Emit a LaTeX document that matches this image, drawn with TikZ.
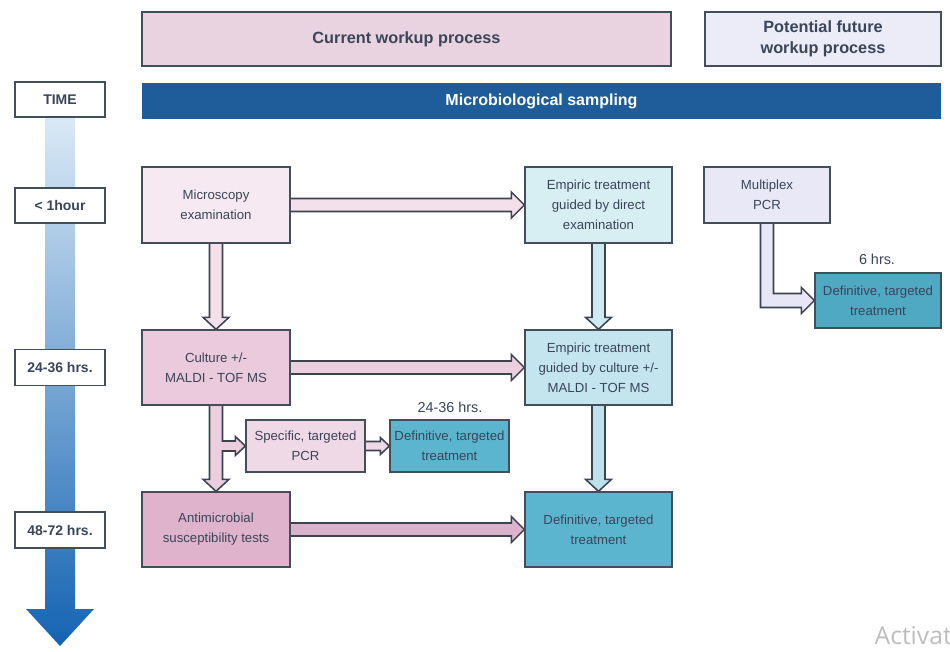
\documentclass[tikz,border=0pt]{standalone}
\usepackage{fontspec}
\setmainfont{Liberation Sans}
\newfontfamily\wmfont{Open Sans}
\usetikzlibrary{calc,backgrounds}
\definecolor{txt}{HTML}{3A4559}
\definecolor{brd}{HTML}{434E5B}
\definecolor{arrln}{HTML}{3A434E}
\definecolor{curpink}{HTML}{E9D3E1}
\definecolor{potlav}{HTML}{ECECF8}
\definecolor{sampblue}{HTML}{1F5D9A}
\definecolor{micF}{HTML}{F6E9F1}
\definecolor{culF}{HTML}{EACADC}
\definecolor{antiF}{HTML}{DEB3CB}
\definecolor{pcrF}{HTML}{EFD9E6}
\definecolor{empA}{HTML}{D7EEF3}
\definecolor{empB}{HTML}{C4E5EE}
\definecolor{defF}{HTML}{5CB5CF}
\definecolor{defR}{HTML}{4FA9C3}
\definecolor{mpcrF}{HTML}{E8E8F7}
\definecolor{aPinkA}{HTML}{F3E0EB}
\definecolor{aPinkB}{HTML}{EBCFDF}
\definecolor{aPinkC}{HTML}{DBB2CB}
\definecolor{aBlueA}{HTML}{CDEAF2}
\definecolor{aBlueB}{HTML}{BEE2EC}
\definecolor{aLav}{HTML}{E6E6F6}
\definecolor{tLight}{HTML}{DDEBF7}
\definecolor{tDark}{HTML}{1463B2}
\definecolor{wm}{HTML}{BDBDBD}

\tikzset{
  box/.style={draw=brd, line width=1pt, text=txt, align=center, inner sep=0pt,
    font=\fontsize{9.9}{15}\selectfont},
  hdr/.style={draw=brd, line width=0.8pt, text=txt, align=center, inner sep=0pt,
    font=\fontsize{12.2}{16}\selectfont\bfseries},
  tbox/.style={draw=brd, line width=1pt, fill=white, text=txt, align=center, inner sep=0pt,
    font=\fontsize{10.5}{13}\selectfont\bfseries, minimum width=90*0.75pt},
  lbl/.style={text=txt, inner sep=0pt, font=\fontsize{10.8}{13}\selectfont},
  arrline/.style={draw=arrln, line width=1.15pt, line join=miter},
}

% horizontal block arrow: from, to, fill, half shaft, half head, head length
\newcommand\hblk[6]{%
  \filldraw[arrline, fill=#3] ($(#1.east)+(0,-#4)$) -- ($(#2.west)+(-#6,-#4)$)
    -- ($(#2.west)+(-#6,-#5)$) -- (#2.west) -- ($(#2.west)+(-#6,#5)$)
    -- ($(#2.west)+(-#6,#4)$) -- ($(#1.east)+(0,#4)$);}
% vertical block arrow
\newcommand\vblk[3]{%
  \filldraw[arrline, fill=#3] ($(#1.south)+(-6.5,0)$) -- ($(#2.north)+(-6.5,-12)$)
    -- ($(#2.north)+(-13,-12)$) -- (#2.north) -- ($(#2.north)+(13,-12)$)
    -- ($(#2.north)+(6.5,-12)$) -- ($(#1.south)+(6.5,0)$);}

\begin{document}
\begin{tikzpicture}[x=0.75pt, y=-0.75pt]
\useasboundingbox (0,0) rectangle (950,652);

% time arrow
\shade[top color=tLight, bottom color=tDark]
  (45,110) -- (45,609) -- (26,609) -- (60,646) -- (94,609) -- (75,609) -- (75,110) -- cycle;

% headers
\node[hdr, fill=curpink, minimum width=529*0.75pt, minimum height=54*0.75pt] (cur) at (406.5,39) {Current workup process};
\node[hdr, fill=potlav, minimum width=236*0.75pt, minimum height=54*0.75pt] (pot) at (823,39) {Potential future\\workup process};
\node[fill=sampblue, text=white, inner sep=0pt, font=\fontsize{12}{14}\selectfont\bfseries,
  minimum width=799*0.75pt, minimum height=36*0.75pt] (samp) at (541.5,101) {Microbiological sampling};

% time boxes
\node[tbox, minimum height=35*0.75pt] (tTime) at (60,99.5) {TIME};
\node[tbox, minimum height=35*0.75pt] (tOne) at (60,205.5) {< 1hour};
\node[tbox, minimum height=36*0.75pt] (tTwo) at (60,367.5) {24-36 hrs.};
\node[tbox, minimum height=36*0.75pt] (tThree) at (60,530) {48-72 hrs.};

% process boxes
\node[box, fill=micF, minimum width=148*0.75pt, minimum height=76*0.75pt] (mic) at (216,205) {Microscopy\\examination};
\node[box, fill=culF, minimum width=148*0.75pt, minimum height=75*0.75pt] (cul) at (216,367.5) {Culture +/-\\MALDI - TOF MS};
\node[box, fill=antiF, minimum width=148*0.75pt, minimum height=75*0.75pt] (anti) at (216,529.5) {Antimicrobial\\susceptibility tests};
\node[box, fill=pcrF, minimum width=119*0.75pt, minimum height=52*0.75pt] (pcr) at (305.5,446) {Specific, targeted\\PCR};
\node[box, fill=defF, minimum width=119*0.75pt, minimum height=52*0.75pt] (defs) at (449.5,446) {Definitive, targeted\\treatment};
\node[box, fill=empA, minimum width=147*0.75pt, minimum height=76*0.75pt] (empA) at (598.5,205) {Empiric treatment\\guided by direct\\examination};
\node[box, fill=empB, minimum width=147*0.75pt, minimum height=75*0.75pt] (empB) at (598.5,367.5) {Empiric treatment\\guided by culture +/-\\MALDI - TOF MS};
\node[box, fill=defF, minimum width=147*0.75pt, minimum height=75*0.75pt] (defb) at (598.5,529.5) {Definitive, targeted\\treatment};
\node[box, fill=mpcrF, minimum width=126*0.75pt, minimum height=56*0.75pt] (mpcr) at (767,195) {Multiplex\\PCR};
\node[box, fill=defR, minimum width=126*0.75pt, minimum height=55*0.75pt] (defr) at (878,300.5) {Definitive, targeted\\treatment};

% labels
\node[lbl] (lblA) at (450,407) {24-36 hrs.};
\node[lbl] (lblB) at (877,259) {6 hrs.};
\node[anchor=east, inner sep=0pt, text=wm, font=\wmfont\fontsize{18.5}{20}\selectfont] (wmk) at (952,636) {Activat};

% block arrows
\begin{scope}[on background layer]
\hblk{mic}{empA}{aPinkA}{6.5}{13}{13}
\hblk{cul}{empB}{aPinkB}{6.5}{13}{13}
\hblk{anti}{defb}{aPinkC}{6.5}{13}{13}
\hblk{pcr}{defs}{pcrF}{4.5}{8.5}{9}
\vblk{mic}{cul}{aPinkA}
\vblk{empA}{empB}{aBlueA}
\vblk{empB}{defb}{aBlueB}
% culture -> antimicrobial with branch to PCR
\coordinate (vr) at ($(anti.north)+(6.5,0)$);
\coordinate (bB) at ($(pcr.west)+(-10,5)$);
\coordinate (bT) at ($(pcr.west)+(-10,-5)$);
\filldraw[arrline, fill=aPinkB] ($(cul.south)+(-6.5,0)$) -- ($(anti.north)+(-6.5,-12)$)
  -- ($(anti.north)+(-13,-12)$) -- (anti.north) -- ($(anti.north)+(13,-12)$)
  -- ($(anti.north)+(6.5,-12)$) -- (vr |- bB) -- (bB) -- ($(pcr.west)+(-10,9.5)$)
  -- (pcr.west) -- ($(pcr.west)+(-10,-9.5)$) -- (bT) -- (vr |- bT) -- ($(cul.south)+(6.5,0)$);
% multiplex -> definitive (elbow)
\coordinate (mL) at ($(mpcr.south)+(-6.5,0)$);
\coordinate (mR) at ($(mpcr.south)+(6.5,0)$);
\coordinate (hB) at ($(defr.west)+(-13,7)$);
\coordinate (hT) at ($(defr.west)+(-13,-7)$);
\filldraw[arrline, fill=aLav] (mL) -- (mL |- hB) -- (hB) -- ($(defr.west)+(-13,13)$)
  -- (defr.west) -- ($(defr.west)+(-13,-13)$) -- (hT) -- (mR |- hT) -- (mR);
\end{scope}
\end{tikzpicture}
\end{document}
